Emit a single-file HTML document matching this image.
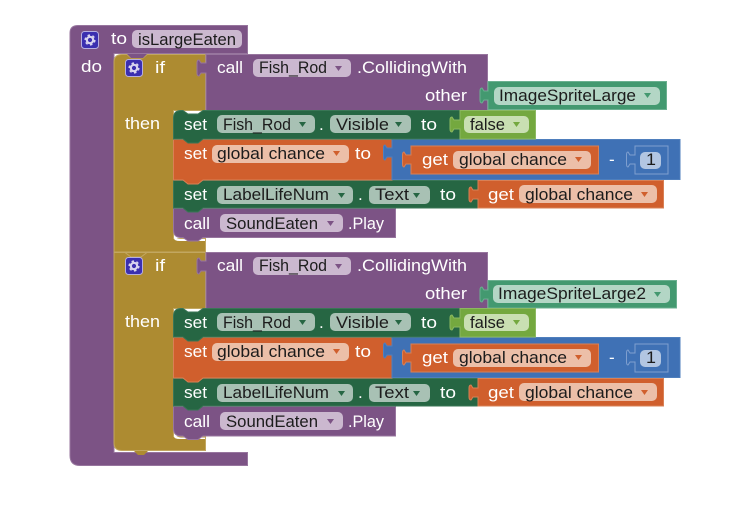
<!DOCTYPE html>
<html><head><meta charset="utf-8">
<style>
html,body{margin:0;padding:0;background:#fff;width:738px;height:526px;overflow:hidden}
svg{display:block}
text{font-family:"Liberation Sans",sans-serif;font-size:17px}
.w{fill:#fff}
.k{fill:#1c1c1c}
.p{fill:#7c5385;stroke:#97759e;stroke-width:1}
.g{fill:#ad8b31;stroke:#c2a760;stroke-width:1}
.d{fill:#266643;stroke:#3a7656;stroke-width:1}
.o{fill:#d05f2d;stroke:#d98055;stroke-width:1}
.b{fill:#3f71b5;stroke:#4f7fbd;stroke-width:1}
.t{fill:#439970;stroke:#6bb090;stroke-width:1}
.l{fill:#74a83f;stroke:#8cb961;stroke-width:1}
.fp{fill:#cbb8cf}.fd{fill:#a8c1b4}.fo{fill:#ecbfa8}.ft{fill:#b3d6c5}.fl{fill:#c9dfb2}.fb{fill:#b2c6e2}
</style></head><body>
<svg width="738" height="526" viewBox="0 0 738 526" xmlns="http://www.w3.org/2000/svg">
<defs>
<g id="gear">
<rect x="0.5" y="0.5" width="17" height="17" rx="3" fill="#3b2fb0" stroke="#b5aee0"/>
<circle cx="9" cy="9" r="3.200" fill="none" stroke="#d8d4ee" stroke-width="2.200"/>
<circle cx="9" cy="9" r="4.800" fill="none" stroke="#d8d4ee" stroke-width="1.600" stroke-dasharray="2.500 2.500"/>
</g>
</defs>

<!-- procedure -->
<path class="p" d="M78,25.500H247.500V53.500H114V452.500H247.500V465.500H80Q70,465.500 70,455.500V33Q70,25.500 78,25.500Z"/>
<use href="#gear" x="81" y="31"/>
<text class="w" x="111" y="44" textLength="16" lengthAdjust="spacingAndGlyphs">to</text>
<rect x="132" y="30" width="110" height="18" rx="5" class="fp"/>
<text class="k" x="138" y="45" textLength="98" lengthAdjust="spacingAndGlyphs">isLargeEaten</text>
<text class="w" x="81" y="72" textLength="21" lengthAdjust="spacingAndGlyphs">do</text>

<!-- second if -->
<path class="g" d="M114,252.500H205.500V308.500H173.500V436.500H205.500V450.500H122Q114,450.500 114,443V252.500Z"/>
<path d="M174,436.500V430Q174,437 181,437.500H205V439H180Q174,439 174,436.500Z" fill="#fff"/>
<path d="M134,451L138,455H144L148,451Z" fill="#ad8b31"/>
<path d="M125,252.500L131,257H141L147,252.500" fill="none" stroke="#c2a760"/>

<!-- first if -->
<path class="g" d="M122,54.500H127L131,58H143L147,54.500H205.500V110.500H173.500V238.500H205.500V252H114V62Q114,54.500 122,54.500Z"/>
<path d="M174,238V232Q174,239 181,239H205V241H180Q174,241 174,238Z" fill="#fff"/>
<path d="M127,54L131,58H143L147,54Z" fill="#7c5385"/>
<use href="#gear" x="125" y="59"/>
<text class="w" x="155" y="73" textLength="10" lengthAdjust="spacingAndGlyphs">if</text>
<text class="w" x="125" y="129" textLength="35" lengthAdjust="spacingAndGlyphs">then</text>

<use href="#gear" x="125" y="257"/>
<text class="w" x="155" y="271" textLength="10" lengthAdjust="spacingAndGlyphs">if</text>
<text class="w" x="125" y="327" textLength="35" lengthAdjust="spacingAndGlyphs">then</text>

<!-- ===== stack 1 ===== -->
<path class="p" d="M206,54.500H487.500V110.500H206V73H201L199,76Q197,76 197,73V63Q197,60 199,60L201,63H206Z"/>
<text class="w" x="217" y="73" textLength="26" lengthAdjust="spacingAndGlyphs">call</text>
<rect x="253" y="59" width="98" height="18" rx="5" class="fp"/>
<text class="k" x="259" y="73" textLength="68" lengthAdjust="spacingAndGlyphs">Fish_Rod</text>
<path d="M335,66h7l-3.500,5z" fill="#7c5385"/>
<text class="w" x="357" y="73" textLength="110" lengthAdjust="spacingAndGlyphs">.CollidingWith</text>
<text class="w" x="425" y="101" textLength="42" lengthAdjust="spacingAndGlyphs">other</text>

<path class="t" d="M488,81.500H666.500V109.500H488V100H484L482,103Q480,103 480,100V91Q480,88 482,88L484,91H488Z"/>
<rect x="494" y="87" width="166" height="18" rx="5" class="ft"/>
<text class="k" x="499" y="101" textLength="137" lengthAdjust="spacingAndGlyphs">ImageSpriteLarge</text>
<path d="M644,93h7l-3.500,5z" fill="#439970"/>

<!-- call play -->
<path class="p" d="M173.500,208.500H395.500V237.500H203L198,241H188L183,237.500H181Q173.500,237.500 173.500,230Z"/>
<text class="w" x="184" y="229" textLength="26" lengthAdjust="spacingAndGlyphs">call</text>
<rect x="220" y="214" width="123" height="18" rx="5" class="fp"/>
<text class="k" x="226" y="229" textLength="92" lengthAdjust="spacingAndGlyphs">SoundEaten</text>
<path d="M327,221h7l-3.500,5z" fill="#7c5385"/>
<text class="w" x="348" y="229" textLength="36" lengthAdjust="spacingAndGlyphs">.Play</text>

<!-- set label -->
<path class="d" d="M173.500,180.500H478V208H203L198,212H188L183,208H173.500Z"/>
<text class="w" x="184" y="200" textLength="23" lengthAdjust="spacingAndGlyphs">set</text>
<rect x="217" y="186" width="136" height="18" rx="5" class="fd"/>
<text class="k" x="223" y="200" textLength="106" lengthAdjust="spacingAndGlyphs">LabelLifeNum</text>
<path d="M338,193h7l-3.500,5z" fill="#266643"/>
<text class="w" x="358" y="200">.</text>
<rect x="369" y="186" width="61" height="18" rx="5" class="fd"/>
<text class="k" x="375" y="200" textLength="34" lengthAdjust="spacingAndGlyphs">Text</text>
<path d="M413,193h7l-3.500,5z" fill="#266643"/>
<text class="w" x="440" y="200" textLength="16" lengthAdjust="spacingAndGlyphs">to</text>

<path class="o" d="M478,180.500H663.500V208H478V199H473L471,202Q469,202 469,199V190Q469,187 471,187L473,190H478Z"/>
<text class="w" x="488" y="200" textLength="26" lengthAdjust="spacingAndGlyphs">get</text>
<rect x="519" y="185" width="138" height="18" rx="5" class="fo"/>
<text class="k" x="525" y="200" textLength="108" lengthAdjust="spacingAndGlyphs">global chance</text>
<path d="M641,192h7l-3.500,5z" fill="#d05f2d"/>

<!-- set global -->
<path class="o" d="M173.500,139.500H392V180H203L198,184H188L183,180H173.500Z"/>
<text class="w" x="184" y="159" textLength="23" lengthAdjust="spacingAndGlyphs">set</text>
<rect x="212" y="145" width="137" height="18" rx="5" class="fo"/>
<text class="k" x="217" y="159" textLength="108" lengthAdjust="spacingAndGlyphs">global chance</text>
<path d="M333,151h7l-3.500,5z" fill="#d05f2d"/>
<text class="w" x="355" y="159" textLength="16" lengthAdjust="spacingAndGlyphs">to</text>

<path class="b" d="M392,139.500H680V179.500H392V157H387L385,160Q383.500,160 383.500,157V148Q383.500,145 385,145L387,148H392Z"/>
<path class="o" stroke="#8d7d90" d="M411,146H598.500V174H411V164H406L404,167Q402.500,167 402.500,164V155Q402.500,152 404,152L406,155H411Z"/>
<text class="w" x="422" y="165" textLength="26" lengthAdjust="spacingAndGlyphs">get</text>
<rect x="453" y="151" width="138" height="18" rx="5" class="fo"/>
<text class="k" x="459" y="165" textLength="108" lengthAdjust="spacingAndGlyphs">global chance</text>
<path d="M575,157h7l-3.500,5z" fill="#d05f2d"/>
<text class="w" x="609" y="165">-</text>
<path fill="#3f71b5" stroke="#7f9fcf" d="M635,146H668V174H635V164H630L628,167Q626.500,167 626.500,164V155Q626.500,152 628,152L630,155H635Z"/>
<rect x="640" y="152" width="21" height="17" rx="5" class="fb"/>
<text class="k" x="646" y="165" textLength="10" lengthAdjust="spacingAndGlyphs">1</text>

<!-- set visible -->
<path class="d" d="M181,110.500H183L188,114H198L203,110.500H460V139H203L198,143H188L183,139H173.500V118Q173.500,110.500 181,110.500Z"/>
<text class="w" x="184" y="130" textLength="23" lengthAdjust="spacingAndGlyphs">set</text>
<rect x="217" y="115" width="98" height="18" rx="5" class="fd"/>
<text class="k" x="223" y="130" textLength="68" lengthAdjust="spacingAndGlyphs">Fish_Rod</text>
<path d="M299,122h7l-3.500,5z" fill="#266643"/>
<text class="w" x="319" y="130">.</text>
<rect x="330" y="115" width="81" height="18" rx="5" class="fd"/>
<text class="k" x="336" y="130" textLength="53" lengthAdjust="spacingAndGlyphs">Visible</text>
<path d="M395,122h7l-3.500,5z" fill="#266643"/>
<text class="w" x="421" y="130" textLength="16" lengthAdjust="spacingAndGlyphs">to</text>

<path class="l" d="M460,110.500H535.500V139H460V129H454L452,132Q450,132 450,129V120Q450,117 452,117L454,120H460Z"/>
<rect x="464" y="116" width="65" height="17" rx="5" class="fl"/>
<text class="k" x="470" y="130" textLength="35" lengthAdjust="spacingAndGlyphs">false</text>
<path d="M513,122h7l-3.500,5z" fill="#74a83f"/>

<!-- ===== stack 2 ===== -->
<path class="p" d="M206,252.500H487.500V308.500H206V271H201L199,274Q197,274 197,271V261Q197,258 199,258L201,261H206Z"/>
<text class="w" x="217" y="271" textLength="26" lengthAdjust="spacingAndGlyphs">call</text>
<rect x="253" y="257" width="98" height="18" rx="5" class="fp"/>
<text class="k" x="259" y="271" textLength="68" lengthAdjust="spacingAndGlyphs">Fish_Rod</text>
<path d="M335,264h7l-3.500,5z" fill="#7c5385"/>
<text class="w" x="357" y="271" textLength="110" lengthAdjust="spacingAndGlyphs">.CollidingWith</text>
<text class="w" x="425" y="299" textLength="42" lengthAdjust="spacingAndGlyphs">other</text>

<path class="t" d="M488,280.500H676.500V308H488V299H484L482,302Q480,302 480,299V290Q480,287 482,287L484,290H488Z"/>
<rect x="493" y="285" width="177" height="18" rx="5" class="ft"/>
<text class="k" x="498" y="299" textLength="148" lengthAdjust="spacingAndGlyphs">ImageSpriteLarge2</text>
<path d="M654,292h7l-3.500,5z" fill="#439970"/>

<path class="p" d="M173.500,406.500H395.500V436H203L198,439.500H188L183,436H181Q173.500,436 173.500,428.500Z"/>
<text class="w" x="184" y="427" textLength="26" lengthAdjust="spacingAndGlyphs">call</text>
<rect x="220" y="412" width="123" height="18" rx="5" class="fp"/>
<text class="k" x="226" y="427" textLength="92" lengthAdjust="spacingAndGlyphs">SoundEaten</text>
<path d="M327,419h7l-3.500,5z" fill="#7c5385"/>
<text class="w" x="348" y="427" textLength="36" lengthAdjust="spacingAndGlyphs">.Play</text>

<path class="d" d="M173.500,378.500H478V406H203L198,410H188L183,406H173.500Z"/>
<text class="w" x="184" y="398" textLength="23" lengthAdjust="spacingAndGlyphs">set</text>
<rect x="217" y="384" width="136" height="18" rx="5" class="fd"/>
<text class="k" x="223" y="398" textLength="106" lengthAdjust="spacingAndGlyphs">LabelLifeNum</text>
<path d="M338,391h7l-3.500,5z" fill="#266643"/>
<text class="w" x="358" y="398">.</text>
<rect x="369" y="384" width="61" height="18" rx="5" class="fd"/>
<text class="k" x="375" y="398" textLength="34" lengthAdjust="spacingAndGlyphs">Text</text>
<path d="M413,391h7l-3.500,5z" fill="#266643"/>
<text class="w" x="440" y="398" textLength="16" lengthAdjust="spacingAndGlyphs">to</text>

<path class="o" d="M478,378.500H663.500V406H478V397H473L471,400Q469,400 469,397V388Q469,385 471,385L473,388H478Z"/>
<text class="w" x="488" y="398" textLength="26" lengthAdjust="spacingAndGlyphs">get</text>
<rect x="519" y="383" width="138" height="18" rx="5" class="fo"/>
<text class="k" x="525" y="398" textLength="108" lengthAdjust="spacingAndGlyphs">global chance</text>
<path d="M641,390h7l-3.500,5z" fill="#d05f2d"/>

<path class="o" d="M173.500,337.500H392V378H203L198,382H188L183,378H173.500Z"/>
<text class="w" x="184" y="357" textLength="23" lengthAdjust="spacingAndGlyphs">set</text>
<rect x="212" y="343" width="137" height="18" rx="5" class="fo"/>
<text class="k" x="217" y="357" textLength="108" lengthAdjust="spacingAndGlyphs">global chance</text>
<path d="M333,349h7l-3.500,5z" fill="#d05f2d"/>
<text class="w" x="355" y="357" textLength="16" lengthAdjust="spacingAndGlyphs">to</text>

<path class="b" d="M392,337.500H680V377.500H392V355H387L385,358Q383.500,358 383.500,355V346Q383.500,343 385,343L387,346H392Z"/>
<path class="o" stroke="#8d7d90" d="M411,344H598.500V372H411V362H406L404,365Q402.500,365 402.500,362V353Q402.500,350 404,350L406,353H411Z"/>
<text class="w" x="422" y="363" textLength="26" lengthAdjust="spacingAndGlyphs">get</text>
<rect x="453" y="349" width="138" height="18" rx="5" class="fo"/>
<text class="k" x="459" y="363" textLength="108" lengthAdjust="spacingAndGlyphs">global chance</text>
<path d="M575,355h7l-3.500,5z" fill="#d05f2d"/>
<text class="w" x="609" y="363">-</text>
<path fill="#3f71b5" stroke="#7f9fcf" d="M635,344H668V372H635V362H630L628,365Q626.500,365 626.500,362V353Q626.500,350 628,350L630,353H635Z"/>
<rect x="640" y="350" width="21" height="17" rx="5" class="fb"/>
<text class="k" x="646" y="363" textLength="10" lengthAdjust="spacingAndGlyphs">1</text>

<path class="d" d="M181,308.500H183L188,312H198L203,308.500H460V337H203L198,341H188L183,337H173.500V316Q173.500,308.500 181,308.500Z"/>
<text class="w" x="184" y="328" textLength="23" lengthAdjust="spacingAndGlyphs">set</text>
<rect x="217" y="313" width="98" height="18" rx="5" class="fd"/>
<text class="k" x="223" y="328" textLength="68" lengthAdjust="spacingAndGlyphs">Fish_Rod</text>
<path d="M299,320h7l-3.500,5z" fill="#266643"/>
<text class="w" x="319" y="328">.</text>
<rect x="330" y="313" width="81" height="18" rx="5" class="fd"/>
<text class="k" x="336" y="328" textLength="53" lengthAdjust="spacingAndGlyphs">Visible</text>
<path d="M395,320h7l-3.500,5z" fill="#266643"/>
<text class="w" x="421" y="328" textLength="16" lengthAdjust="spacingAndGlyphs">to</text>

<path class="l" d="M460,308.500H535.500V337H460V327H454L452,330Q450,330 450,327V318Q450,315 452,315L454,318H460Z"/>
<rect x="464" y="314" width="65" height="17" rx="5" class="fl"/>
<text class="k" x="470" y="328" textLength="35" lengthAdjust="spacingAndGlyphs">false</text>
<path d="M513,320h7l-3.500,5z" fill="#74a83f"/>
</svg>
</body></html>
